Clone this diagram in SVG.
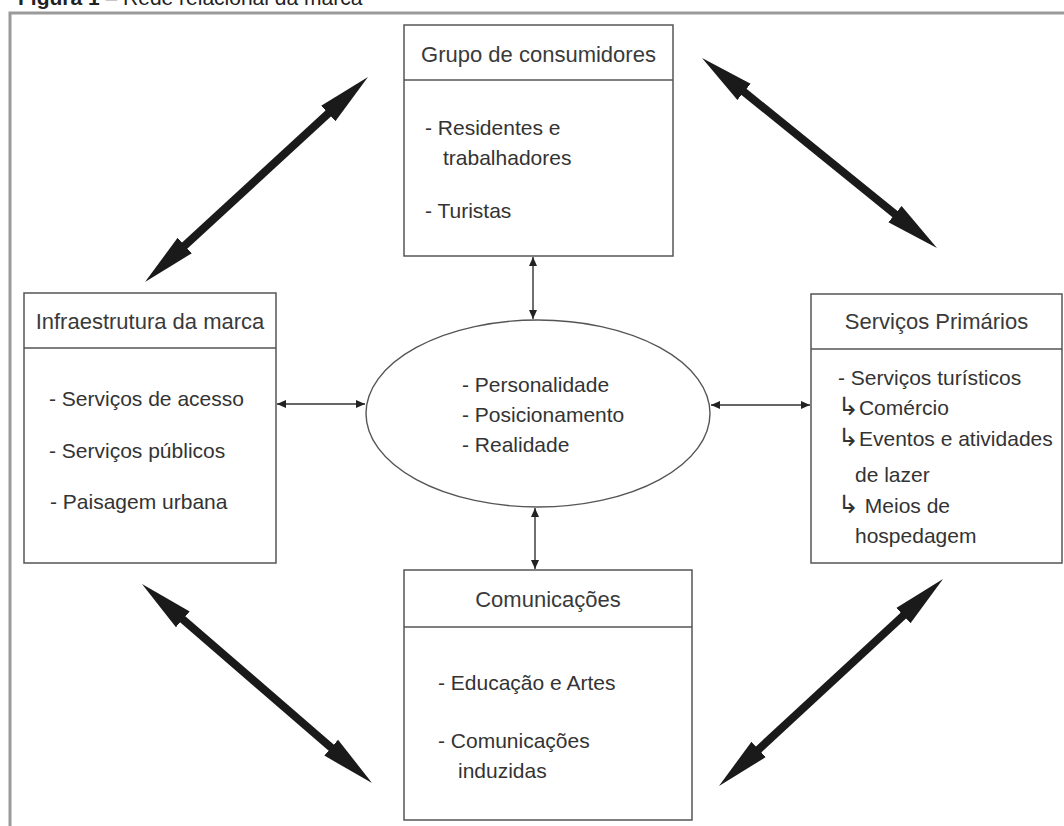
<svg xmlns="http://www.w3.org/2000/svg" width="1064" height="826" viewBox="0 0 1064 826">
  <style>
    .box { fill: #ffffff; stroke: #555555; stroke-width: 1.5; }
    .div { stroke: #555555; stroke-width: 1.5; }
    .t { font-family: "Liberation Sans", Arial, sans-serif; font-size: 21px; fill: #333333; }
    .hook { font-family: "DejaVu Sans", sans-serif; font-size: 25px; }
    .title { font-family: "Liberation Sans", Arial, sans-serif; font-size: 22px; fill: #3a3a3a; text-anchor: middle; }
    .big { stroke: #1a1a1a; stroke-width: 8; fill: none; marker-start: url(#bigHead); marker-end: url(#bigHead); }
    .small { stroke: #333333; stroke-width: 1.4; fill: none; marker-start: url(#smallHead); marker-end: url(#smallHead); }
    .frame { stroke: #9a9a9a; stroke-width: 3; fill: none; }
  </style>
  <defs>
    <marker id="bigHead" markerUnits="userSpaceOnUse" viewBox="0 0 56 24" markerWidth="56" markerHeight="24" refX="4" refY="12" orient="auto-start-reverse">
      <path d="M0,1.5 L54,12 L0,22.5 Z" fill="#1a1a1a"/>
    </marker>
    <marker id="smallHead" markerUnits="userSpaceOnUse" viewBox="0 0 10 8" markerWidth="10" markerHeight="8" refX="9" refY="4" orient="auto-start-reverse">
      <path d="M0,0 L9,4 L0,8 Z" fill="#222222"/>
    </marker>
  </defs>
  <rect width="1064" height="826" fill="#ffffff"/>

  <text x="18" y="5" font-family="Liberation Sans, Arial, sans-serif" font-size="21" fill="#222"><tspan font-weight="bold">Figura 1</tspan> – Rede relacional da marca</text>
  <path class="frame" d="M10,826 L10,13 L1064,13"/>

  <g id="connectors">
    <line class="big" x1="181.8" y1="248.2" x2="331.2" y2="110.8"/>
    <line class="big" x1="740.9" y1="89.4" x2="898.1" y2="216.6"/>
    <line class="big" x1="179.8" y1="616.7" x2="334.2" y2="750.3"/>
    <line class="big" x1="906.3" y1="612.9" x2="755.7" y2="752.1"/>
    <line class="small" x1="533" y1="257" x2="533" y2="319"/>
    <line class="small" x1="535" y1="508" x2="535" y2="569"/>
    <line class="small" x1="277" y1="404" x2="365" y2="404"/>
    <line class="small" x1="711" y1="405" x2="810" y2="405"/>
  </g>

  <g id="grupo-consumidores">
    <rect class="box" x="404" y="25" width="269" height="231"/>
    <line class="div" x1="404" y1="80" x2="673" y2="80"/>
    <text class="title" x="538.5" y="62">Grupo de consumidores</text>
    <text class="t" x="425" y="135">- Residentes e</text>
    <text class="t" x="443" y="165">trabalhadores</text>
    <text class="t" x="425" y="218">- Turistas</text>
  </g>

  <g id="infraestrutura">
    <rect class="box" x="24" y="293" width="252" height="270"/>
    <line class="div" x1="24" y1="348" x2="276" y2="348"/>
    <text class="title" x="150" y="329">Infraestrutura da marca</text>
    <text class="t" x="49" y="406">- Serviços de acesso</text>
    <text class="t" x="49" y="458">- Serviços públicos</text>
    <text class="t" x="50" y="509">- Paisagem urbana</text>
  </g>

  <g id="marca">
    <ellipse cx="538" cy="413.5" rx="172" ry="93.5" fill="#ffffff" stroke="#555555" stroke-width="1.4"/>
    <text class="t" x="462" y="392">- Personalidade</text>
    <text class="t" x="462" y="422">- Posicionamento</text>
    <text class="t" x="462" y="452">- Realidade</text>
  </g>

  <g id="servicos-primarios">
    <rect class="box" x="811" y="294" width="251" height="269"/>
    <line class="div" x1="811" y1="349" x2="1062" y2="349"/>
    <text class="title" x="936.5" y="329">Serviços Primários</text>
    <text class="t" x="838" y="385">- Serviços turísticos</text>
    <text class="t" x="838" y="415"><tspan class="hook">↳</tspan>Comércio</text>
    <text class="t" x="838" y="446"><tspan class="hook">↳</tspan>Eventos e atividades</text>
    <text class="t" x="855" y="482">de lazer</text>
    <text class="t" x="838" y="513"><tspan class="hook">↳</tspan> Meios de</text>
    <text class="t" x="855" y="543">hospedagem</text>
  </g>

  <g id="comunicacoes">
    <rect class="box" x="404" y="570" width="288" height="250"/>
    <line class="div" x1="404" y1="627" x2="692" y2="627"/>
    <text class="title" x="548" y="607">Comunicações</text>
    <text class="t" x="438" y="690">- Educação e Artes</text>
    <text class="t" x="438" y="748">- Comunicações</text>
    <text class="t" x="458" y="778">induzidas</text>
  </g>
</svg>
